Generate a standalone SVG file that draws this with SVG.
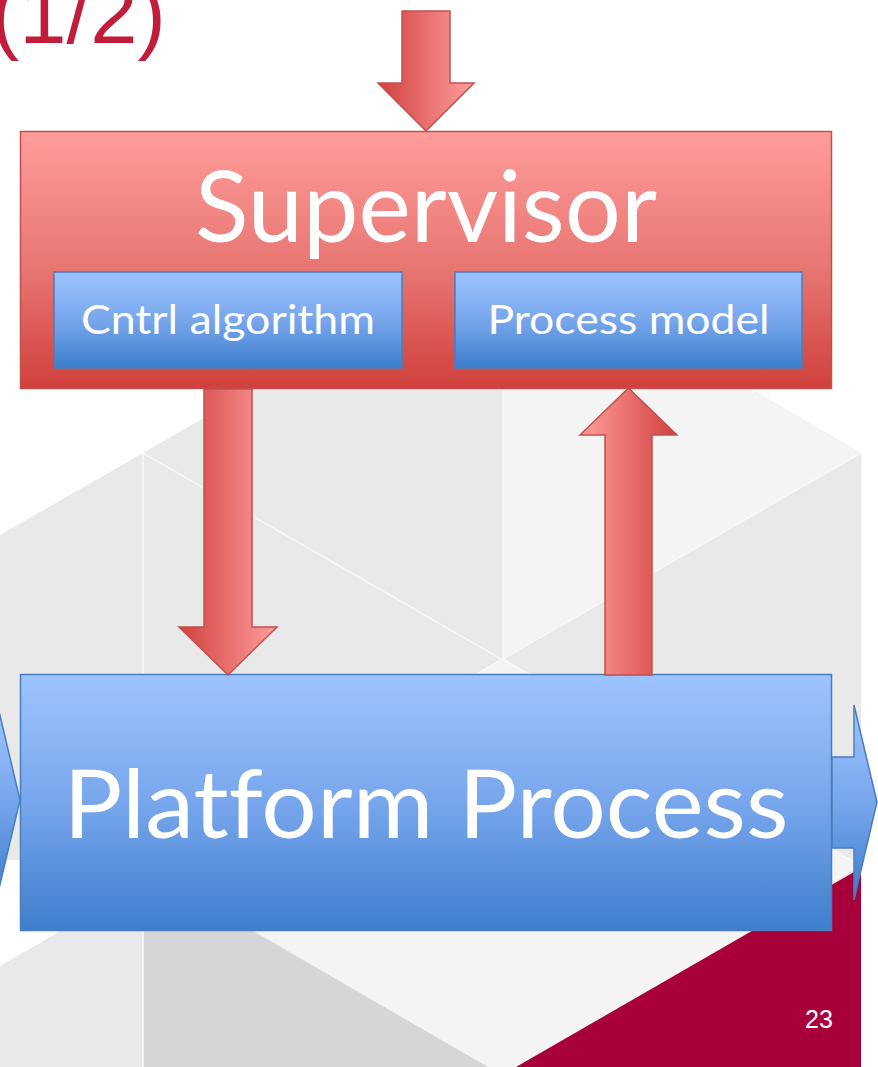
<svg xmlns="http://www.w3.org/2000/svg" width="878" height="1067" viewBox="0 0 878 1067">
  <defs>
    <linearGradient id="redV" x1="0" y1="0" x2="0" y2="1">
      <stop offset="0" stop-color="#ff9d9a"/>
      <stop offset="0.55" stop-color="#e77471"/>
      <stop offset="1" stop-color="#d0403c"/>
    </linearGradient>
    <linearGradient id="blueV" x1="0" y1="0" x2="0" y2="1">
      <stop offset="0" stop-color="#9ec4ff"/>
      <stop offset="0.5" stop-color="#78a6ec"/>
      <stop offset="1" stop-color="#3e7ecd"/>
    </linearGradient>
    <linearGradient id="redRight" x1="0" y1="0" x2="1" y2="0">
      <stop offset="0" stop-color="#d0413e"/>
      <stop offset="1" stop-color="#ff9e9c"/>
    </linearGradient>
    <linearGradient id="redLeft" x1="1" y1="0" x2="0" y2="0">
      <stop offset="0" stop-color="#d0413e"/>
      <stop offset="1" stop-color="#ff9e9c"/>
    </linearGradient>
    <style>
      .sup { fill: url(#redV); stroke: #c0504d; stroke-width: 1.5; }
      .blk { fill: url(#blueV); stroke: #4a7ebb; stroke-width: 1.5; }
      .rarrow { stroke: #c0504d; stroke-width: 1.5; stroke-linejoin: miter; }
      .barrow { fill: url(#blueV); stroke: #4a7ebb; stroke-width: 1.5; }
      .seam { stroke: #f8f8f8; stroke-width: 1.5; fill: none; }
      .lbl { font-family: Lato, "Open Sans", sans-serif; fill: #ffffff; text-anchor: middle;
             font-variant-ligatures: none; font-feature-settings: "liga" 0, "clig" 0; }
    </style>
  </defs>

  <!-- slide background: isometric cube pattern -->
  <g id="background">
    <rect x="0" y="0" width="878" height="1067" fill="#ffffff"/>
    <polygon points="0,535 143,453 503,245 861,453 861,1067 0,1067" fill="#e9e9e9"/>
    <polygon points="0,860 143,860 143,883 0,966" fill="#ffffff"/>
    <polygon points="503,658 503,245 861,453" fill="#f4f4f4"/>
    <polygon points="503,658 143,866 503,1076 861,866" fill="#f4f4f4"/>
    <polygon points="143,868 488,1067 143,1067" fill="#d6d6d6"/>
    <polygon points="861,868 861,1067 516,1067" fill="#a8003b"/>
    <line class="seam" x1="143" y1="453" x2="143" y2="1067"/>
    <line class="seam" x1="503" y1="245" x2="503" y2="658"/>
    <line class="seam" x1="143" y1="453" x2="861" y2="866"/>
    <line class="seam" x1="861" y1="453" x2="143" y2="866"/>
  </g>

  <text x="-9" y="43" font-family="Liberation Sans, Arial, sans-serif" font-size="85" fill="#c11d3b">(1/2)</text>

  <g id="supervisor">
    <rect class="sup" x="20.5" y="131.5" width="811" height="257"/>
    <text class="lbl" x="426" y="242" font-size="98" textLength="462" lengthAdjust="spacingAndGlyphs">Supervisor</text>
  </g>

  <g id="cntrl-algorithm">
    <rect class="blk" x="54" y="272" width="348" height="96"/>
    <text class="lbl" x="228" y="334" font-size="40" textLength="294" lengthAdjust="spacingAndGlyphs">Cntrl algorithm</text>
  </g>

  <g id="process-model">
    <rect class="blk" x="455" y="272" width="347" height="96"/>
    <text class="lbl" x="628.5" y="334" font-size="40" textLength="282" lengthAdjust="spacingAndGlyphs">Process model</text>
  </g>

  <g id="platform-process">
    <rect class="blk" x="20.5" y="674.5" width="811" height="256"/>
    <text class="lbl" x="426" y="838" font-size="95" textLength="725" lengthAdjust="spacingAndGlyphs">Platform Process</text>
  </g>

  <g id="connectors">
    <!-- input into the supervisor -->
    <polygon class="rarrow" fill="url(#redRight)" points="402,11 450,11 450,83 474,83 426,131 378,83 402,83"/>
    <!-- control action down to the process -->
    <polygon class="rarrow" fill="url(#redRight)" points="204,389 252,389 252,627 277,627 228,675 179,627 204,627"/>
    <!-- measurement back up to the process model -->
    <polygon class="rarrow" fill="url(#redLeft)" points="605,675 652,675 652,435 677,435 628.5,388 580,435 605,435"/>
    <!-- process input and output -->
    <polygon class="barrow" points="-40,752 -2,752 -2,707 20,800 -2,893 -2,847 -40,847"/>
    <polygon class="barrow" points="832,757 854,757 854,705 877,802 854,900 854,848 832,848"/>
  </g>

  <text x="805" y="1028" font-family="Liberation Sans, Arial, sans-serif" font-size="25" fill="#ffffff">23</text>
</svg>
